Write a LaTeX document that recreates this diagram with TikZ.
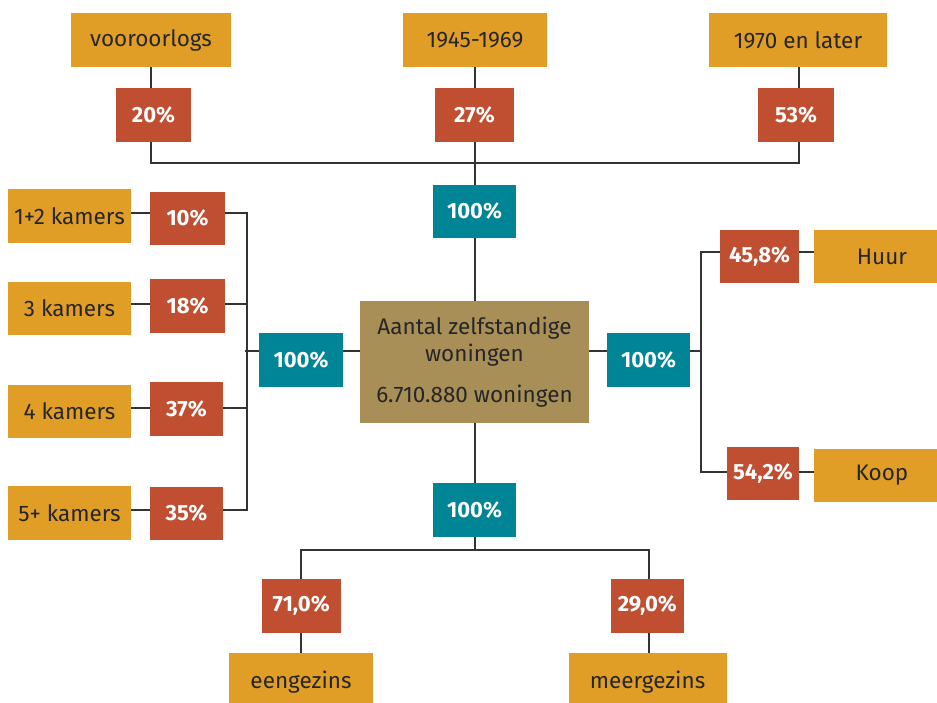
\documentclass[tikz,border=0pt]{standalone}
\usepackage{fontspec}
\setmainfont{Fira Sans}
\usetikzlibrary{calc}
\definecolor{cOrange}{HTML}{E19E27}
\definecolor{cRed}{HTML}{C04F32}
\definecolor{cTeal}{HTML}{008597}
\definecolor{cTan}{HTML}{A88F57}
\definecolor{cText}{HTML}{262626}
\definecolor{cLine}{HTML}{333333}
\begin{document}
\begin{tikzpicture}[x=1pt,y=-1pt,
  box/.style={inner sep=0pt, outer sep=0pt, anchor=center},
  catbox/.style={box, fill=cOrange, text=cText, font=\fontsize{22.5}{27}\selectfont},
  pctbox/.style={box, fill=cRed, text=white, font=\fontsize{22}{26}\selectfont\bfseries},
  totbox/.style={box, fill=cTeal, text=white, font=\fontsize{22}{26}\selectfont\bfseries},
  mainbox/.style={box, fill=cTan, text=cText, align=center, font=\fontsize{22.5}{27}\selectfont},
  conn/.style={draw=cLine, line width=1.8pt}]
\useasboundingbox (0,0) rectangle (937,702);
\clip (0,0) rectangle (937,702);

% top row
\node[catbox, minimum width=160, minimum height=54] (voor) at (151,40) {vooroorlogs};
\node[catbox, minimum width=144, minimum height=54] (y4569) at (475,40) {1945-1969};
\node[catbox, minimum width=178, minimum height=54] (y70) at (798,40) {1970 en later};
\node[pctbox, minimum width=75, minimum height=54] (p20) at (153.5,115) {20\%};
\node[pctbox, minimum width=79, minimum height=54] (p27) at (474.5,115) {27\%};
\node[pctbox, minimum width=76, minimum height=54] (p53) at (796,115) {53\%};
\node[totbox, minimum width=83, minimum height=53] (t100) at (474.5,211.5) {100\%};

% left column
\node[catbox, minimum width=123, minimum height=54] (k12) at (69.5,216) {1+2 kamers};
\node[catbox, minimum width=123, minimum height=53] (k3) at (69.5,308.5) {3 kamers};
\node[catbox, minimum width=123, minimum height=53] (k4) at (69.5,411.5) {4 kamers};
\node[catbox, minimum width=123, minimum height=54] (k5) at (69.5,513) {5+ kamers};
\node[pctbox, minimum width=75, minimum height=53] (p10) at (187.5,218.5) {10\%};
\node[pctbox, minimum width=75, minimum height=54] (p18) at (187.5,306) {18\%};
\node[pctbox, minimum width=73, minimum height=54] (p37) at (186.5,409) {37\%};
\node[pctbox, minimum width=73, minimum height=53] (p35) at (186.5,513.5) {35\%};
\node[totbox, minimum width=84, minimum height=54] (l100) at (301,360) {100\%};

% centre
\node[mainbox, minimum width=229, minimum height=122] (c) at (474.5,362)
  {Aantal zelfstandige\\woningen\\[14pt]6.710.880 woningen};

% right column
\node[totbox, minimum width=83, minimum height=54] (r100) at (648.5,360) {100\%};
\node[pctbox, minimum width=79, minimum height=53] (p458) at (759.5,256.5) {45,8\%};
\node[pctbox, minimum width=72, minimum height=53] (p542) at (763,473.5) {54,2\%};
\node[catbox, minimum width=136, minimum height=53] (huur) at (882,256.5) {Huur};
\node[catbox, minimum width=136, minimum height=53] (koop) at (882,475.5) {Koop};

% bottom
\node[totbox, minimum width=83, minimum height=54] (b100) at (474.5,510) {100\%};
\node[pctbox, minimum width=79, minimum height=54] (p71) at (301.2,606) {71,0\%};
\node[pctbox, minimum width=73, minimum height=54] (p29) at (647.3,606) {29,0\%};
\node[catbox, minimum width=144, minimum height=58] (eeng) at (301,682) {eengezins};
\node[catbox, minimum width=158, minimum height=58] (meer) at (647.5,682) {meergezins};

% bus coordinates
\coordinate (tb) at (475,163);
\coordinate (lb1) at (247,213);
\coordinate (lb2) at (247,304);
\coordinate (lb3) at (247,408);
\coordinate (lb4) at (247,510);
\coordinate (lm) at (245,351);
\coordinate (hy) at (0,351);
\coordinate (rb1) at (701,252);
\coordinate (rb2) at (701,472);
\coordinate (rm) at (701,351);
\coordinate (bb) at (475,550);

% top connectors
\draw[conn] (voor.south -| 151,0) -- (p20.north -| 151,0);
\draw[conn] (y4569.south -| tb) -- (p27.north -| tb);
\draw[conn] (y70.south -| 799,0) -- (p53.north -| 799,0);
\draw[conn] (p20.south -| 151,0) |- (tb) -| (p53.south -| 799,0);
\draw[conn] (p27.south -| tb) -- (t100.north -| tb);
\draw[conn] (t100.south -| tb) -- (c.north -| tb);

% left connectors
\draw[conn] (k12.east |- lb1) -- (p10.west |- lb1);
\draw[conn] (k3.east |- lb2) -- (p18.west |- lb2);
\draw[conn] (k4.east |- lb3) -- (p37.west |- lb3);
\draw[conn] (k5.east |- lb4) -- (p35.west |- lb4);
\draw[conn] (p10.east |- lb1) -- (lb1) -- (lb4) -- (p35.east |- lb4);
\draw[conn] (p18.east |- lb2) -- (lb2);
\draw[conn] (p37.east |- lb3) -- (lb3);
\draw[conn] (lm) -- (l100.west |- hy);
\draw[conn] (l100.east |- hy) -- (c.west |- hy);

% right connectors
\draw[conn] (c.east |- hy) -- (r100.west |- hy);
\draw[conn] (r100.east |- hy) -- (rm);
\draw[conn] (p458.west |- rb1) -- (rb1) -- (rb2) -- (p542.west |- rb2);
\draw[conn] (p458.east |- rb1) -- (huur.west |- rb1);
\draw[conn] (p542.east |- rb2) -- (koop.west |- rb2);

% bottom connectors
\draw[conn] (c.south -| bb) -- (b100.north -| bb);
\draw[conn] (b100.south -| bb) -- (bb);
\draw[conn] (p71.north) |- (bb) -| (p29.north -| 649,0);
\draw[conn] (p71.south) -- (eeng.north -| p71.south);
\draw[conn] (p29.south -| 649,0) -- (meer.north -| 649,0);
\end{tikzpicture}
\end{document}
